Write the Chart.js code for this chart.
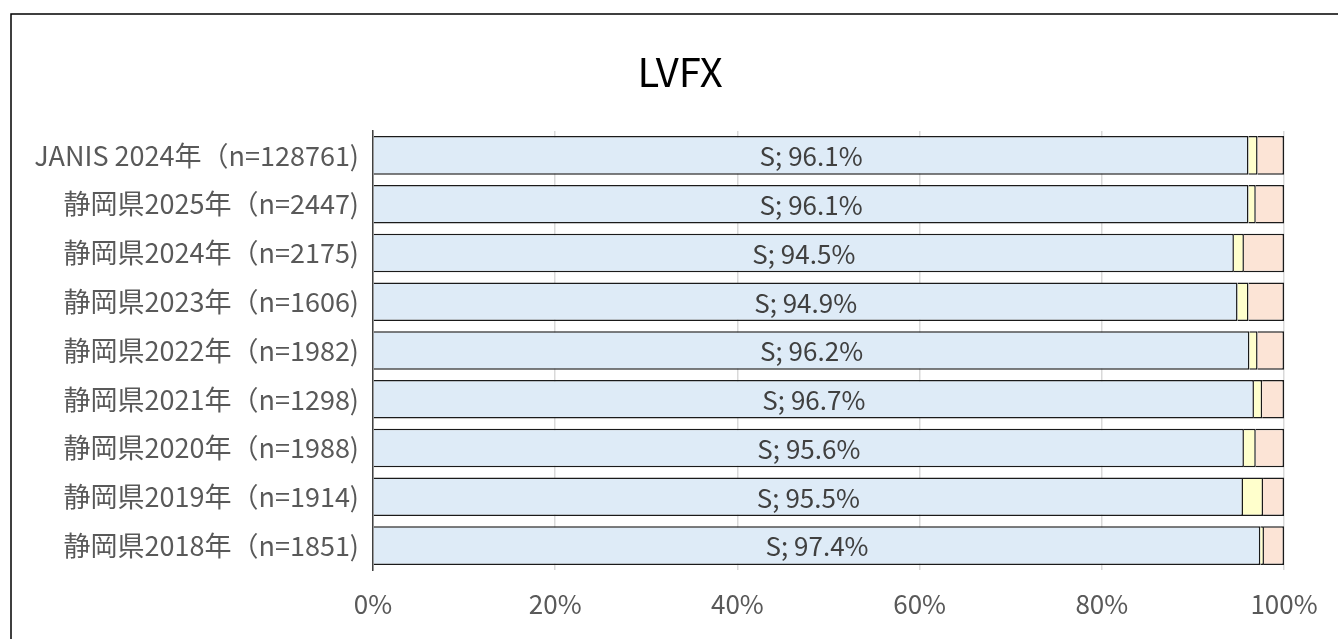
<!DOCTYPE html>
<html>
<head>
<meta charset="utf-8">
<script src="https://cdn.jsdelivr.net/npm/chart.js@4"></script>
<style>
  body { margin: 0; background: #fff; }
  #wrap { width: 1338px; height: 639px; }
</style>
</head>
<body>
<div id="wrap"><canvas id="lvfx" width="1338" height="639"></canvas></div>
<script>
// data
var labels = [
  'JANIS 2024年（n=128761)',
  '静岡県2025年（n=2447)',
  '静岡県2024年（n=2175)',
  '静岡県2023年（n=1606)',
  '静岡県2022年（n=1982)',
  '静岡県2021年（n=1298)',
  '静岡県2020年（n=1988)',
  '静岡県2019年（n=1914)',
  '静岡県2018年（n=1851)'
];
var sValues = [96.1, 96.1, 94.5, 94.9, 96.2, 96.7, 95.6, 95.5, 97.4];
var iValues = [1.0, 0.8, 1.1, 1.2, 0.9, 0.9, 1.3, 2.2, 0.4];
var rValues = [2.9, 3.1, 4.4, 3.9, 2.9, 2.4, 3.1, 2.3, 2.2];
var xTicks = ['0%', '20%', '40%', '60%', '80%', '100%'];

var FONT = '"Noto Sans CJK JP", "Noto Sans", sans-serif';

// frame, title and the "S; xx%" labels
var decor = {
  id: 'decor',
  beforeDraw: function(chart) {
    var c = chart.ctx;
    c.save();
    c.fillStyle = '#fff';
    c.fillRect(0, 0, chart.width, chart.height);
    c.strokeStyle = '#000';
    c.lineWidth = 1.5;
    c.beginPath();
    c.moveTo(11, 660);
    c.lineTo(11, 14);
    c.lineTo(1360, 14);
    c.stroke();
    c.restore();
  },
  afterDatasetsDraw: function(chart) {
    var c = chart.ctx;
    c.save();
    c.font = '40px ' + FONT;
    c.fillStyle = '#000';
    c.textAlign = 'center';
    c.textBaseline = 'middle';
    c.fillText('LVFX', 680, 72);
    var meta = chart.getDatasetMeta(0);
    c.font = '26px ' + FONT;
    c.fillStyle = '#404040';
    meta.data.forEach(function(bar, i) {
      var x = (bar.base + bar.x) / 2;
      c.fillText('S; ' + sValues[i].toFixed(1) + '%', x, bar.y + 1);
    });
    c.restore();
  }
};

var ctx = document.getElementById('lvfx').getContext('2d');
var chart = new Chart(ctx, {
  type: 'bar',
  data: {
    labels: labels,
    datasets: [
      { label: 'S', data: sValues, backgroundColor: '#deebf7', borderColor: '#1a1a1a', borderWidth: 1.5 },
      { label: 'I', data: iValues, backgroundColor: '#ffffcc', borderColor: '#1a1a1a', borderWidth: 1.5 },
      { label: 'R', data: rValues, backgroundColor: '#fce4d6', borderColor: '#1a1a1a', borderWidth: 1.5 }
    ]
  },
  options: {
    indexAxis: 'y',
    responsive: false,
    animation: false,
    layout: { padding: { top: 131, right: 54, left: 0, bottom: 0 } },
    datasets: { bar: { barPercentage: 0.79, categoryPercentage: 1 } },
    plugins: {
      legend: { display: false },
      tooltip: { enabled: false },
      title: { display: false }
    },
    scales: {
      x: {
        stacked: true,
        min: 0,
        max: 100,
        afterFit: function(scale) { scale.height = 69; },
        ticks: {
          stepSize: 20,
          padding: 19,
          color: '#595959',
          font: { family: FONT, size: 26 },
          callback: function(v, idx) { return xTicks[idx]; }
        },
        grid: { color: '#d9d9d9', lineWidth: 1.5, drawTicks: false },
        border: { display: false }
      },
      y: {
        stacked: true,
        afterFit: function(scale) { scale.width = 373; },
        ticks: {
          padding: 14,
          color: '#595959',
          font: { family: FONT, size: 27 }
        },
        grid: { display: false, drawTicks: false },
        border: { display: true, color: '#404040', width: 1.5 }
      }
    }
  },
  plugins: [decor]
});
</script>
</body>
</html>
